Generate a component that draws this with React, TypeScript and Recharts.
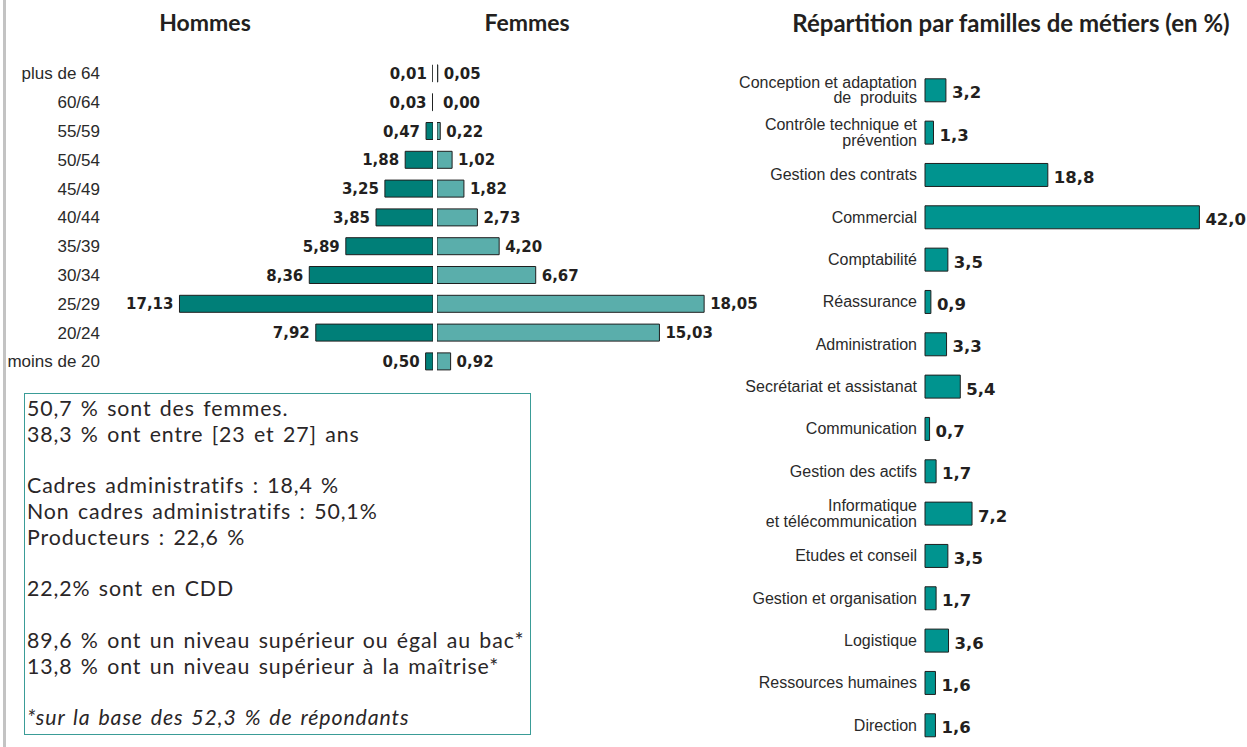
import React from 'react';
import { BarChart, Bar, XAxis, YAxis, LabelList, Cell } from 'recharts';

const ageGroups = ['plus de 64', '60/64', '55/59', '50/54', '45/49', '40/44', '35/39', '30/34', '25/29', '20/24', 'moins de 20'];
const menShares = [0.01, 0.03, 0.47, 1.88, 3.25, 3.85, 5.89, 8.36, 17.13, 7.92, 0.5];
const womenShares = [0.05, 0.0, 0.22, 1.02, 1.82, 2.73, 4.2, 6.67, 18.05, 15.03, 0.92];

const jobFamilies = [
  'Conception et adaptation\nde  produits',
  'Contrôle technique et\nprévention',
  'Gestion des contrats',
  'Commercial',
  'Comptabilité',
  'Réassurance',
  'Administration',
  'Secrétariat et assistanat',
  'Communication',
  'Gestion des actifs',
  'Informatique\net télécommunication',
  'Etudes et conseil',
  'Gestion et organisation',
  'Logistique',
  'Ressources humaines',
  'Direction',
];
const jobShares = [3.2, 1.3, 18.8, 42.0, 3.5, 0.9, 3.3, 5.4, 0.7, 1.7, 7.2, 3.5, 1.7, 3.6, 1.6, 1.6];

const summaryLines = [
  '50,7 % sont des femmes.',
  '38,3 % ont entre [23 et 27] ans',
  '',
  'Cadres administratifs : 18,4 %',
  'Non cadres administratifs : 50,1%',
  'Producteurs : 22,6 %',
  '',
  '22,2% sont en CDD',
  '',
  '89,6 % ont un niveau supérieur ou égal au bac*',
  '13,8 % ont un niveau supérieur à la maîtrise*',
  '',
];
const footnote = '*sur la base des 52,3 % de répondants';

const titleLeft = 'Hommes';
const titleMid = 'Femmes';
const titleRight = 'Répartition par familles de métiers (en %)';

const pyramidData = ageGroups.map((age, i) => ({ age, men: menShares[i], women: womenShares[i] }));
const jobData = jobFamilies.map((name, i) => ({ name, share: jobShares[i] }));

const MEN = '#007f78';
const WOMEN = '#5aaeab';
const JOB = '#00948f';
const STROKE = '#1f1f1f';
const INK = '#231f20';

const valueFont = { fontFamily: '"DejaVu Sans", sans-serif', fontWeight: 700, fontSize: 15, fill: INK } as const;
const jobValueFont = { fontFamily: '"DejaVu Sans", sans-serif', fontWeight: 700, fontSize: 16.5, fill: INK } as const;

const fmt = (v: number, d: number) => Number(v).toFixed(d).replace('.', ',');

const box = (p: any) => {
  const vb = p.viewBox && p.viewBox.width !== undefined ? p.viewBox : p;
  const x = Number(vb.x);
  const w = Number(vb.width);
  const y = Number(vb.y);
  const h = Number(vb.height);
  return { left: Math.min(x, x + w), right: Math.max(x, x + w), cy: y + h / 2 };
};

const MenLabel = (p: any) => {
  const b = box(p);
  return (
    <text x={b.left - 6} y={b.cy + 5.5} textAnchor="end" style={valueFont}>
      {fmt(p.value, 2)}
    </text>
  );
};

const WomenLabel = (p: any) => {
  const b = box(p);
  return (
    <text x={b.right + 6} y={b.cy + 5.5} textAnchor="start" style={valueFont}>
      {fmt(p.value, 2)}
    </text>
  );
};

const JobLabel = (p: any) => {
  const b = box(p);
  return (
    <text x={b.right + 6} y={b.cy + 8} textAnchor="start" style={jobValueFont}>
      {fmt(p.value, 1)}
    </text>
  );
};

const JobTick = (p: any) => {
  const { x, y, payload } = p;
  const lines = String(payload.value).split('\n');
  const lh = 15.6;
  const y0 = Number(y) - ((lines.length - 1) * lh) / 2 + 5.7;
  return (
    <text
      x={x}
      y={y0}
      textAnchor="end"
      style={{ fontFamily: '"Liberation Sans", Arial, sans-serif', fontSize: 16, fill: '#2a2a2a', whiteSpace: 'pre' }}
    >
      {lines.map((l, i) => (
        <tspan key={i} x={x} dy={i === 0 ? 0 : lh}>
          {l}
        </tspan>
      ))}
    </text>
  );
};

const zeroKeep = (v: number) => (v === 0 ? 0.01 : 0);

const pyrMargin = { top: 58.9, right: 0, bottom: 4.3, left: 0 };

export default function App() {
  return (
    <div
      style={{
        position: 'absolute',
        left: 0,
        top: 0,
        width: 1247,
        height: 747,
        background: '#fff',
        overflow: 'hidden',
      }}
    >
      <div style={{ position: 'absolute', left: 3, top: 0, width: 3, height: 747, background: '#c3c3c3' }} />

      {[
        { t: titleLeft, cx: 205, fs: 23 },
        { t: titleMid, cx: 527, fs: 23 },
        { t: titleRight, cx: 1011, fs: 24 },
      ].map((o) => (
        <div
          key={o.t}
          style={{
            position: 'absolute',
            left: o.cx - 300,
            width: 600,
            top: 11,
            textAlign: 'center',
            fontFamily: 'Lato, sans-serif',
            fontWeight: 700,
            fontSize: o.fs,
            lineHeight: '23px',
            color: INK,
            whiteSpace: 'nowrap',
          }}
        >
          {o.t}
        </div>
      ))}

      <div style={{ position: 'absolute', left: 0, top: 0 }}>
        <BarChart width={433} height={380} data={pyramidData} layout="vertical" margin={pyrMargin}>
          <XAxis type="number" domain={[0, 20]} reversed hide />
          <YAxis
            type="category"
            dataKey="age"
            width={137}
            tickLine={false}
            axisLine={false}
            tickSize={0}
            tickMargin={37}
            interval={0}
            tick={{ fontFamily: '"Liberation Sans", Arial, sans-serif', fontSize: 17, fill: '#2a2a2a' }}
          />
          <Bar dataKey="men" fill={MEN} stroke={STROKE} strokeWidth={1} barSize={17} isAnimationActive={false}>
            <LabelList dataKey="men" content={MenLabel} />
          </Bar>
        </BarChart>
      </div>

      <div style={{ position: 'absolute', left: 437, top: 0 }}>
        <BarChart width={340} height={380} data={pyramidData} layout="vertical" margin={{ ...pyrMargin, right: 44 }}>
          <XAxis type="number" domain={[0, 20]} hide />
          <YAxis type="category" dataKey="age" hide />
          <Bar
            dataKey="women"
            fill={WOMEN}
            stroke={STROKE}
            strokeWidth={1}
            barSize={17}
            minPointSize={zeroKeep as any}
            isAnimationActive={false}
          >
            {pyramidData.map((d, i) => (
              <Cell key={i} stroke={d.women === 0 ? 'none' : STROKE} fill={d.women === 0 ? 'none' : WOMEN} />
            ))}
            <LabelList dataKey="women" content={WomenLabel} />
          </Bar>
        </BarChart>
      </div>

      <div style={{ position: 'absolute', left: 700, top: 0 }}>
        <BarChart
          width={547}
          height={747}
          data={jobData}
          layout="vertical"
          margin={{ top: 68.8, right: 28, bottom: 0.9, left: 0 }}
        >
          <XAxis type="number" domain={[0, 45]} hide />
          <YAxis
            type="category"
            dataKey="name"
            width={225}
            tickLine={false}
            axisLine={false}
            tickSize={0}
            tickMargin={8}
            interval={0}
            tick={JobTick}
          />
          <Bar dataKey="share" fill={JOB} stroke={STROKE} strokeWidth={1} barSize={23} isAnimationActive={false}>
            <LabelList dataKey="share" content={JobLabel} />
          </Bar>
        </BarChart>
      </div>

      <div
        style={{
          position: 'absolute',
          left: 24,
          top: 393,
          width: 507,
          height: 342,
          boxSizing: 'border-box',
          border: '1.5px solid #3a9c97',
          padding: '2px 0 0 2px',
          fontFamily: 'Lato, sans-serif',
          fontSize: 21.3,
          letterSpacing: 0.9,
          wordSpacing: 2,
          lineHeight: '25.75px',
          color: '#2a2627',
          whiteSpace: 'nowrap',
        }}
      >
        {summaryLines.map((l, i) => (
          <div key={i} style={{ height: 25.75 }}>
            {l}
          </div>
        ))}
        <div style={{ fontStyle: 'italic' }}>{footnote}</div>
      </div>
    </div>
  );
}
